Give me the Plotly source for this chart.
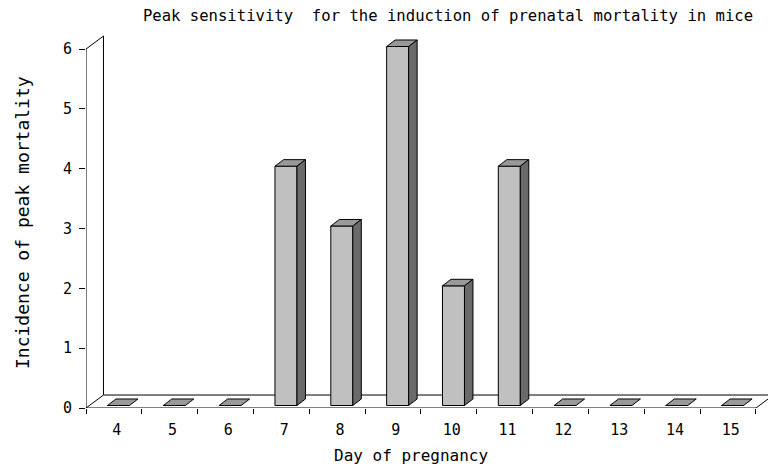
import plotly.graph_objects as go

days = ["4", "5", "6", "7", "8", "9", "10", "11", "12", "13", "14", "15"]
incidence = [0, 0, 0, 4, 3, 6, 2, 4, 0, 0, 0, 0]
y_ticks = [0, 1, 2, 3, 4, 5, 6]

FONT = "DejaVu Sans Mono"
FRONT = "#c0c0c0"
TOP = "#999999"
SIDE = "#6a6a6a"

# fake 3d depth (data units)
wall_dx, wall_dy = 0.313, 0.217
bar_dx, bar_dy = 0.152, 0.109
bar_left, bar_w, bar_base = 0.385, 0.394, 0.042

n = len(days)
ymax = y_ticks[-1]

fig = go.Figure()

# front faces
fig.add_trace(go.Bar(
    x=[i + bar_left + bar_w / 2 for i in range(n)],
    y=incidence,
    base=bar_base,
    width=bar_w,
    marker=dict(color=FRONT, line=dict(color="black", width=1)),
    hoverinfo="skip",
))

# top and side faces
for i, v in enumerate(incidence):
    x0 = i + bar_left
    x1 = x0 + bar_w
    top = bar_base + v
    fig.add_trace(go.Scatter(
        x=[x0, x1, x1 + bar_dx, x0 + bar_dx, x0],
        y=[top, top, top + bar_dy, top + bar_dy, top],
        fill="toself", fillcolor=TOP, mode="lines",
        line=dict(color="black", width=1), hoverinfo="skip"))
    if v > 0:
        fig.add_trace(go.Scatter(
            x=[x1, x1 + bar_dx, x1 + bar_dx, x1, x1],
            y=[bar_base, bar_base + bar_dy, top + bar_dy, top, bar_base],
            fill="toself", fillcolor=SIDE, mode="lines",
            line=dict(color="black", width=1), hoverinfo="skip"))

# walls and axis lines
frame = [
    (wall_dx, wall_dy, wall_dx, ymax + wall_dy),
    (0, ymax, wall_dx, ymax + wall_dy),
    (0, 0, wall_dx, wall_dy),
    (wall_dx, wall_dy, n + wall_dx, wall_dy),
    (n, 0, n + wall_dx, wall_dy),
    (0, 0, 0, ymax),
    (0, 0, n, 0),
]
for xa, ya, xb, yb in frame:
    fig.add_shape(type="line", xref="x", yref="y", x0=xa, y0=ya, x1=xb, y1=yb,
                  line=dict(color="black", width=1), layer="below")

fig.update_layout(
    width=768, height=470,
    margin=dict(l=86, r=0, t=30, b=62),
    paper_bgcolor="white", plot_bgcolor="white",
    showlegend=False,
    font=dict(family=FONT, size=15, color="black"),
    title=dict(text="Peak sensitivity  for the induction of prenatal mortality in mice",
               x=448 / 768, xref="container", xanchor="center",
               y=1 - 16 / 470, yref="container", yanchor="middle",
               font=dict(family=FONT, size=15.6, color="black")),
    xaxis=dict(range=[0, 682 / 55.83], showgrid=False, zeroline=False, showline=False,
               tickmode="array", tickvals=[i + 0.55 for i in range(n)], ticktext=days,
               ticks="", ticklabelstandoff=11,
               minor=dict(tickmode="array", tickvals=list(range(n + 1)), ticks="outside",
                          ticklen=5, tickcolor="black", tickwidth=1, showgrid=False)),
    yaxis=dict(range=[0, 378 / 59.83], showgrid=False, zeroline=False, showline=False,
               tickmode="array", tickvals=y_ticks, ticks="outside", ticklen=6,
               tickcolor="black", ticklabelstandoff=4),
    annotations=[
        dict(text="Incidence of peak mortality", xref="paper", yref="paper",
             x=(22 - 86) / 682, y=(408 - 223) / 378, textangle=-90, showarrow=False,
             xanchor="center", yanchor="middle", font=dict(family=FONT, size=18)),
        dict(text="Day of pregnancy", xref="paper", yref="paper",
             x=(411 - 86) / 682, y=(408 - 455) / 378, showarrow=False,
             xanchor="center", yanchor="middle", font=dict(family=FONT, size=16)),
    ],
)

fig.write_html("out.html", config={"displayModeBar": False},
               post_script="document.body.style.margin='0';")
